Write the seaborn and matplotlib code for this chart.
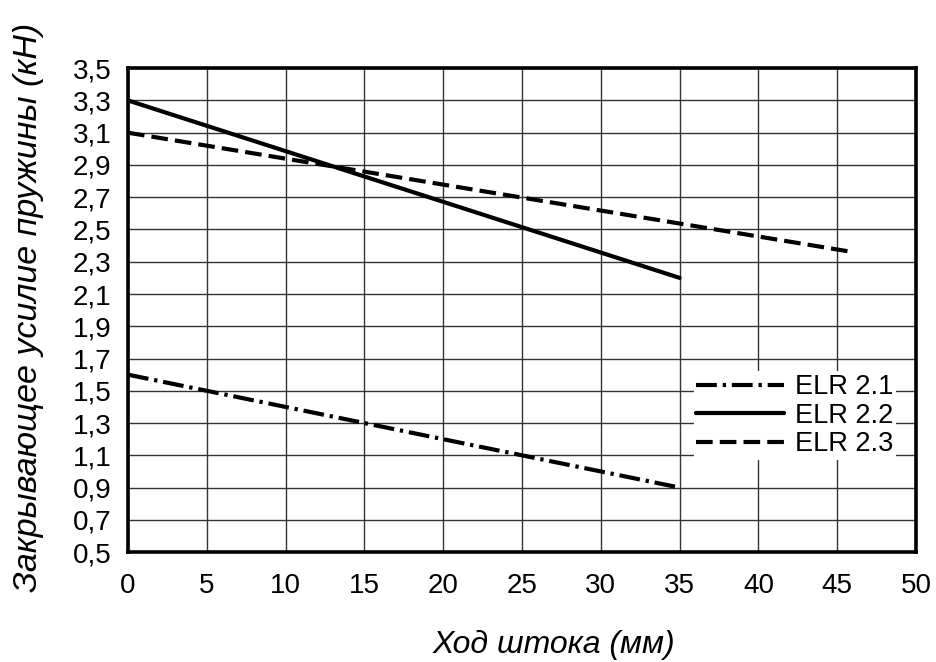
import matplotlib
matplotlib.use("Agg")
import matplotlib.pyplot as plt
import seaborn as sns
import pandas as pd
from matplotlib.ticker import FixedLocator

sns.set_theme(style="white")
plt.rcParams['font.family'] = ['Liberation Sans', 'DejaVu Sans']
plt.rcParams['text.color'] = 'black'
plt.rcParams['axes.labelcolor'] = 'black'

# Data
series_names = ["ELR 2.1", "ELR 2.2", "ELR 2.3"]
x_21 = [0, 35]
y_21 = [1.6, 0.9]
x_22 = [0, 35]
y_22 = [3.3, 2.2]
x_23 = [0, 46]
y_23 = [3.1, 2.36]

x_ticks = [0, 5, 10, 15, 20, 25, 30, 35, 40, 45, 50]
y_ticks = [0.5, 0.7, 0.9, 1.1, 1.3, 1.5, 1.7, 1.9, 2.1, 2.3, 2.5, 2.7, 2.9, 3.1, 3.3, 3.5]
y_tick_labels = ["0,5", "0,7", "0,9", "1,1", "1,3", "1,5", "1,7", "1,9", "2,1", "2,3",
                 "2,5", "2,7", "2,9", "3,1", "3,3", "3,5"]
x_label = "Ход штока (мм)"
y_label = "Закрывающее усилие пружины (кН)"

df = pd.concat([
    pd.DataFrame({"x": x_21, "y": y_21, "s": series_names[0]}),
    pd.DataFrame({"x": x_22, "y": y_22, "s": series_names[1]}),
    pd.DataFrame({"x": x_23, "y": y_23, "s": series_names[2]}),
], ignore_index=True)

fig = plt.figure(figsize=(9.37, 6.62), dpi=100)
ax = fig.add_axes([0.1366, 0.166, 0.841, 0.731])

styles = {
    "ELR 2.1": (0, (5.0, 1.4, 0.8, 1.4)),
    "ELR 2.2": "-",
    "ELR 2.3": (0, (4.0, 1.7)),
}
for name in series_names:
    sub = df[df["s"] == name]
    sns.lineplot(data=sub, x="x", y="y", ax=ax, color="black", linewidth=3.0,
                 linestyle=styles[name], label=name, estimator=None, sort=False)

ax.set_xlim(0, 50)
ax.set_ylim(0.5, 3.5)
ax.xaxis.set_major_locator(FixedLocator(x_ticks))
ax.yaxis.set_major_locator(FixedLocator(y_ticks))
ax.set_xticklabels([str(t) for t in x_ticks])
ax.set_yticklabels(y_tick_labels)
ax.tick_params(axis="both", labelsize=20, colors="black", length=0)
ax.tick_params(axis="x", pad=15)
ax.tick_params(axis="y", pad=12)
ax.grid(True, color="#333333", linewidth=1.0)
for sp in ax.spines.values():
    sp.set_color("black")
    sp.set_linewidth(2.6)

ax.set_xlabel(x_label, fontsize=23, style="italic", color="black")
ax.set_ylabel(y_label, fontsize=24.5, style="italic", color="black")
ax.xaxis.set_label_coords(0.54, -0.161)
ax.yaxis.set_label_coords(-0.1066, 0.506)

leg = ax.legend(loc="lower right", bbox_to_anchor=(0.975, 0.19), frameon=True,
                fontsize=19.5, handlelength=3.25, handletextpad=0.4, borderpad=0.1,
                labelspacing=0.1, borderaxespad=0)
for t in leg.get_texts():
    t.set_color("black")
leg.get_frame().set_facecolor("white")
leg.get_frame().set_edgecolor("white")
leg.get_frame().set_alpha(1.0)
leg.get_frame().set_linewidth(0)
leg.get_frame().set_boxstyle("square", pad=0)

fig.savefig("out.png", dpi=100)
